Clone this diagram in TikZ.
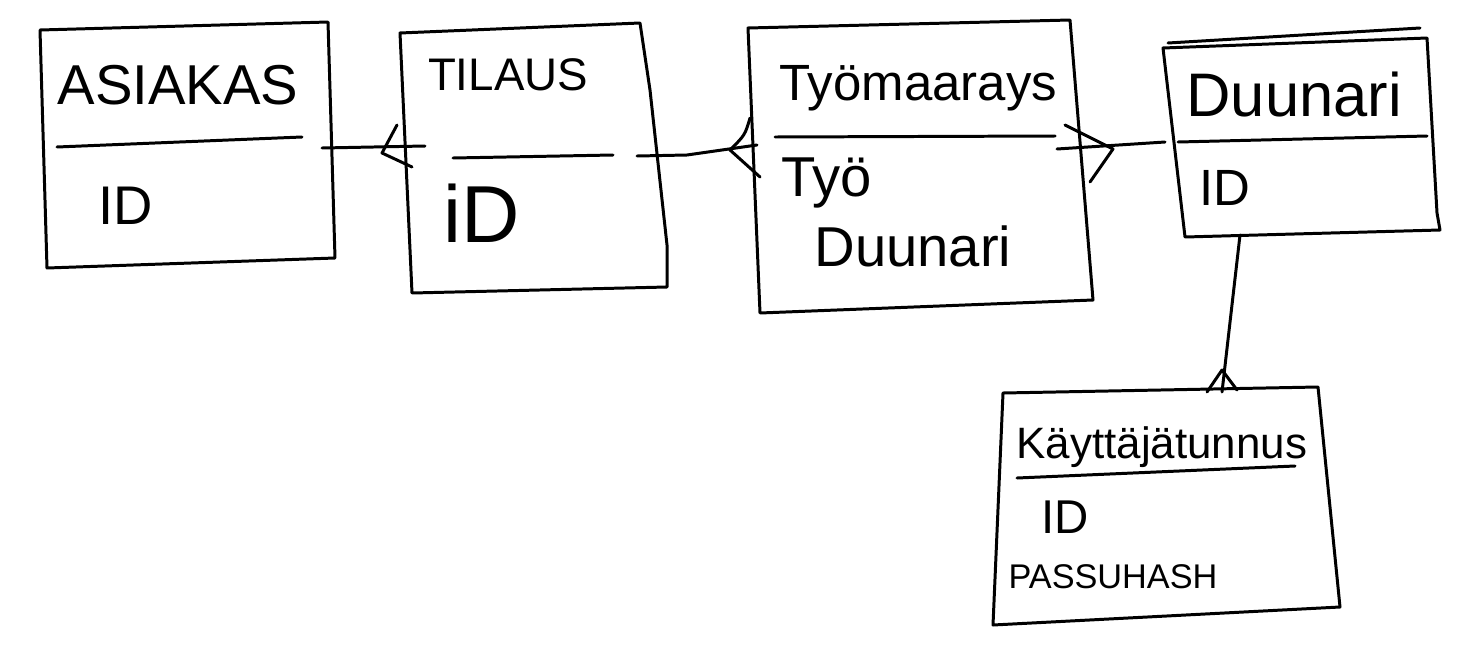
\documentclass[tikz,border=0pt]{standalone}
\usepackage{fontspec}
\setmainfont{Liberation Sans}
\usetikzlibrary{calc}

\begin{document}
\begin{tikzpicture}[x=0.02cm, y=-0.02cm, line width=1.7pt, line cap=round, line join=round,
  ent/.style={draw=black, line width=1.7pt},
  lbl/.style={inner sep=0pt, text=black}]
\useasboundingbox (0,0) rectangle (1460,656);
% entity boxes
\draw[ent] (40,30) -- (328,22) -- (335,258) -- (47,268) -- cycle;
\draw[ent] (400,33) -- (640,23) -- (650,90) -- (667,245) -- (667,287) -- (412,293) -- cycle;
\draw[ent] (748,28) -- (1070,20) -- (1093,300) -- (760,313) -- cycle;
\draw[ent] (1163,48) -- (1427,38) -- (1437,213) -- (1440,230) -- (1185,237) -- cycle;
\draw[ent] (1168,43) -- (1420,28);
\draw[ent] (1003,393) -- (1318,387) -- (1340,607) -- (993,625) -- cycle;
% title lines
\draw (57,147) -- (302,137);
\draw (453,158) -- (613,155);
\draw (775,137) -- (1055,136);
\draw (1178,142) -- (1427,136);
\draw (1017,478) -- (1295,466);
% texts
\node[lbl, font=\fontsize{32}{36}\selectfont] (asiakas) at (178,85) {ASIAKAS};
\node[lbl, font=\fontsize{31}{36}\selectfont] (asiakasId) at (126,206) {ID};
\node[lbl, font=\fontsize{26}{30}\selectfont] (tilaus) at (508,75) {TILAUS};
\node[lbl, font=\fontsize{46}{50}\selectfont] (tilausId) at (482,213) {iD};
\node[lbl, anchor=base west, font=\fontsize{29}{34}\selectfont] (tyomaarays) at (778,100) {Työmaarays};
\node[lbl, anchor=base west, font=\fontsize{32}{36}\selectfont] (tyo) at (780,196) {Työ};
\node[lbl, anchor=base west, font=\fontsize{32}{36}\selectfont] (duunariAttr) at (813,266) {Duunari};
\node[lbl, anchor=base west, font=\fontsize{35}{40}\selectfont] (duunari) at (1185,116) {Duunari};
\node[lbl, font=\fontsize{29}{34}\selectfont] (duunariId) at (1225,188) {ID};
\node[lbl, anchor=base west, font=\fontsize{25}{30}\selectfont] (kayttajatunnus) at (1015,458) {Käyttäjätunnus};
\node[lbl, font=\fontsize{27}{32}\selectfont] (kayttajaId) at (1065,517) {ID};
\node[lbl, font=\fontsize{19.5}{24}\selectfont] (passuhash) at (1113,577) {PASSUHASH};
% connector ends
\coordinate (asiakasR) at (322,148);
\coordinate (tilausL) at (425,146);
\coordinate (tilausR) at (637,156);
\coordinate (tyomaaraysL) at (757,145);
\coordinate (tyomaaraysR) at (1057,149);
\coordinate (duunariL) at (1165,142);
\coordinate (duunariB) at (1240,235);
\coordinate (kayttajaT) at (1222,392);
% relations with crow's feet
\draw (asiakasR) -- (tilausL);
\draw (397,125) -- (382,153) -- (412,167);
\draw (tilausR) -- (687,155) -- (tyomaaraysL);
\draw (750,118) .. controls (745,135) .. (730,150) -- (760,177);
\draw (tyomaaraysR) -- (duunariL);
\draw (1065,125) -- (1113,149) -- (1090,182);
\draw (duunariB) -- (kayttajaT);
\draw (1207,392) -- (1222,370) -- (1237,390);
\end{tikzpicture}
\end{document}
